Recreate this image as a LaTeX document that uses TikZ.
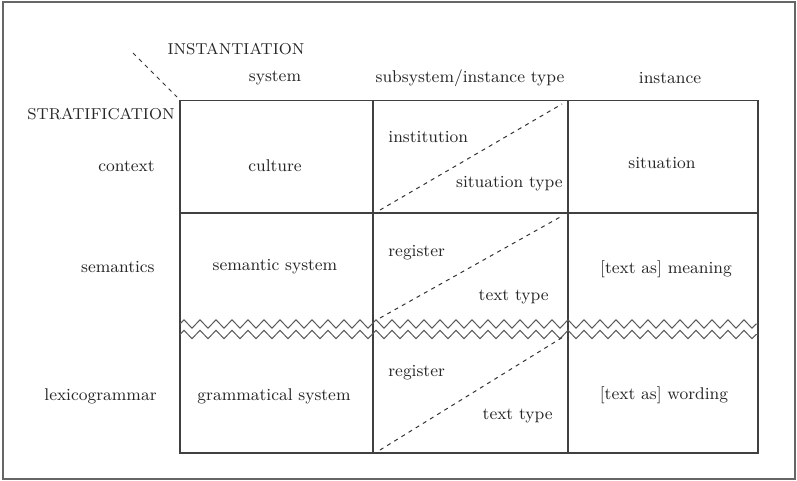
\documentclass[tikz,border=0pt]{standalone}
\usetikzlibrary{decorations.pathmorphing}
\tikzset{
    lbl/.style={font=\fontsize{8.5}{10}\selectfont, text=black!85, inner sep=0pt},
    caps/.style={lbl, font=\fontsize{7.9}{10}\selectfont},
    gridline/.style={draw=black!75, line width=0.6pt},
    zigline/.style={draw=black!65, line width=0.5pt,
        decorate, decoration={zigzag, segment length=8pt, amplitude=2.1pt}},
    diag/.style={draw=black!80, line width=0.5pt, dash pattern=on 2pt off 2.2pt}
}

\begin{document}
\begin{tikzpicture}[x=0.5pt, y=-0.5pt]

    \useasboundingbox (0, 0) rectangle (797, 481);
    \draw[black!60, line width=1pt] (3, 2.5) rectangle (794.5, 478.5);

    % table
    \draw[gridline] (180, 100.5) rectangle (758, 453);
    \draw[gridline] (180, 213) -- (758, 213);
    \foreach \cx in {373, 568} {%
        \draw[gridline] (\cx, 100.5) -- (\cx, 453);
    };
    \foreach \zy in {324, 334.5} {%
        \draw[zigline] (180, \zy) -- (758, \zy);
    };

    % dashed diagonals
    \coordinate (corner-a) at (133, 53);
    \coordinate (corner-b) at (177, 97);
    \draw[diag] (corner-a) -- (corner-b);
    \coordinate (ctx-a) at (380, 210);
    \coordinate (ctx-b) at (562, 104);
    \draw[diag] (ctx-a) -- (ctx-b);
    \coordinate (sem-a) at (380, 318);
    \coordinate (sem-b) at (562, 216);
    \draw[diag] (sem-a) -- (sem-b);
    \coordinate (lex-a) at (380, 450);
    \coordinate (lex-b) at (563, 337);
    \draw[diag] (lex-a) -- (lex-b);

    % headings
    \node[caps] (inst) at (236, 49) {INSTANTIATION};
    \node[caps] (strat) at (101, 114) {STRATIFICATION};
    \node[lbl] (h-sys) at (275, 78) {system};
    \node[lbl] (h-sub) at (470, 78) {subsystem/instance type};
    \node[lbl] (h-ins) at (670, 78) {instance};

    % rows
    \node[lbl, anchor=east] (r-ctx) at (155, 166) {context};
    \node[lbl, anchor=east] (r-sem) at (155, 267) {semantics};
    \node[lbl, anchor=east] (r-lex) at (157, 396) {lexicogrammar};

    % cells
    \node[lbl] (culture) at (275, 166) {culture};
    \node[lbl, anchor=west] (institution) at (388, 137) {institution};
    \node[lbl, anchor=east] (sit-type) at (563, 184) {situation type};
    \node[lbl] (situation) at (662, 163) {situation};

    \node[lbl] (sem-sys) at (275, 267) {semantic system};
    \node[lbl, anchor=west] (sem-reg) at (388, 253) {register};
    \node[lbl, anchor=east] (sem-type) at (549, 297) {text type};
    \node[lbl] (meaning) at (666, 269) {[text as] meaning};

    \node[lbl] (gram-sys) at (274, 396) {grammatical system};
    \node[lbl, anchor=west] (lex-reg) at (388, 373) {register};
    \node[lbl, anchor=east] (lex-type) at (553, 416) {text type};
    \node[lbl] (wording) at (664, 395) {[text as] wording};

\end{tikzpicture}
\end{document}
